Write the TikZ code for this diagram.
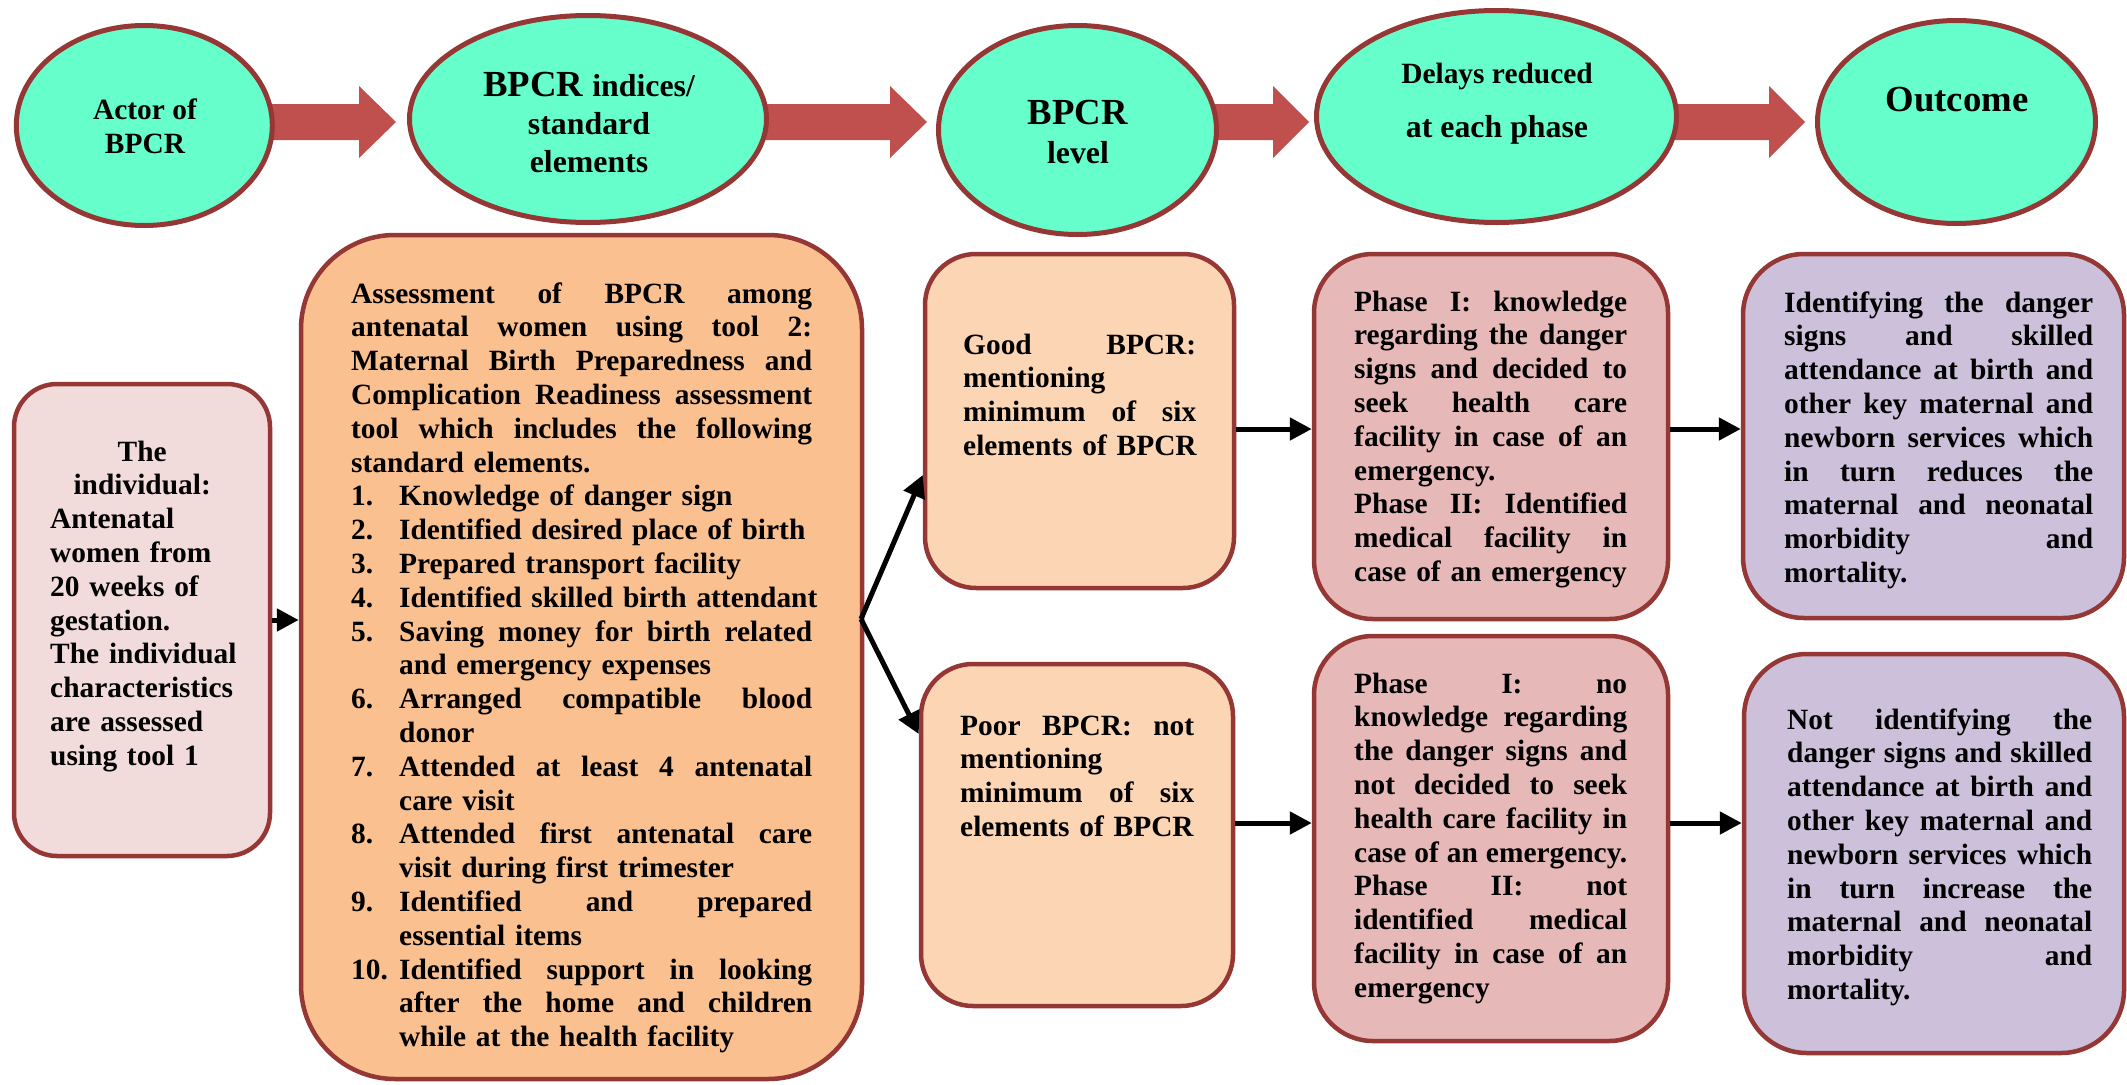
\documentclass[tikz,border=0pt]{standalone}
\usepackage{fontspec}
\setmainfont{Liberation Serif}
\usetikzlibrary{arrows.meta,shapes.geometric}
\definecolor{mint}{HTML}{66FFCC}
\definecolor{bord}{HTML}{953735}
\definecolor{blockred}{HTML}{C0504D}
\definecolor{fillA}{HTML}{F2DCDB}
\definecolor{fillB}{HTML}{FAC090}
\definecolor{fillC}{HTML}{FCD5B5}
\definecolor{fillE}{HTML}{E6B9B8}
\definecolor{fillG}{HTML}{CCC0DA}
\makeatletter
\def\jline#1{\hbox to \linewidth{\j@w#1 \@nil}}
\def\j@w#1 #2\@nil{#1\ifx\relax#2\relax\else\hskip .25em plus 1fil\relax\j@w#2\@nil\fi}
\makeatother
\newcommand{\lline}[1]{\hbox to \linewidth{#1\hfil}}
\newcommand{\mline}[1]{\hbox to \linewidth{\hfil#1\hfil}}
\newcommand{\itemno}[1]{\hbox to 48pt{#1\hfil}}
\newcommand{\ind}{\hskip48pt}
\newcommand{\fA}{\fontsize{29.4}{33.8}\selectfont}
\newcommand{\fB}{\fontsize{31.85}{38}\selectfont}
\newcommand{\fC}{\fontsize{36.75}{40}\selectfont}
\begin{document}
\begin{tikzpicture}[x=1pt,y=-1pt,
  ell/.style={ellipse, draw=bord, line width=5pt, fill=mint, inner sep=0pt},
  box/.style={rectangle, draw=bord, line width=4.5pt, inner sep=0pt},
  btxt/.style={inner sep=0pt, anchor=base west, font=\fA\bfseries},
  etxt/.style={inner sep=0pt, anchor=base, font=\bfseries},
  conn/.style={draw=black, line width=5pt, -{Triangle[length=22pt,width=22pt]}},
  blk/.style={fill=blockred}]
\useasboundingbox (0,0) rectangle (2127,1084);
\fill[white] (0,0) rectangle (2127,1084);

% block arrows
\fill[blk] (265,104) -- (359,104) -- (359,86) -- (396,122) -- (359,158) -- (359,140) -- (265,140) -- cycle;
\fill[blk] (760,104) -- (890,104) -- (890,86) -- (927,122) -- (890,158) -- (890,140) -- (760,140) -- cycle;
\fill[blk] (1212,104) -- (1273,104) -- (1273,86) -- (1309,122) -- (1273,158) -- (1273,140) -- (1212,140) -- cycle;
\fill[blk] (1671,104) -- (1769,104) -- (1769,86) -- (1805,122) -- (1769,158) -- (1769,140) -- (1671,140) -- cycle;

% ellipses
\node[ell, minimum width=256pt, minimum height=200pt] (e1) at (144.3,125.5) {};
\node[ell, minimum width=357pt, minimum height=207pt] (e2) at (588,119) {};
\node[ell, minimum width=278pt, minimum height=209pt] (e3) at (1077.5,130) {};
\node[ell, minimum width=360pt, minimum height=212pt] (e4) at (1496.5,116.5) {};
\node[ell, minimum width=278pt, minimum height=203pt] (e5) at (1956.5,122) {};

\node[etxt] (t1a) at (145,119) {\fA Actor of};
\node[etxt] (t1b) at (145,153) {\fA BPCR};
\node[etxt] (t2a) at (589,96) {\fC BPCR \fB indices/};
\node[etxt] (t2b) at (589,134) {\fB standard};
\node[etxt] (t2c) at (589,172) {\fB elements};
\node[etxt] (t3a) at (1078,124) {\fC BPCR};
\node[etxt] (t3b) at (1078,163) {\fB level};
\node[etxt] (t4a) at (1497,83) {\fA Delays reduced};
\node[etxt] (t4b) at (1497,137) {\fB at each phase};
\node[etxt] (t5a) at (1957,111) {\fC Outcome};

% boxes
\node[box, fill=fillA, rounded corners=43pt, minimum width=256pt, minimum height=472pt] (a) at (142,620) {};
\node[box, fill=fillB, rounded corners=94pt, minimum width=561pt, minimum height=844pt] (b) at (581.5,657) {};
\node[box, fill=fillC, rounded corners=51pt, minimum width=309pt, minimum height=334pt] (c) at (1079.5,421) {};
\node[box, fill=fillC, rounded corners=52pt, minimum width=312pt, minimum height=342pt] (d) at (1077,835) {};
\node[box, fill=fillE, rounded corners=59pt, minimum width=354pt, minimum height=365pt] (e) at (1491,436.5) {};
\node[box, fill=fillE, rounded corners=59pt, minimum width=354pt, minimum height=405pt] (f) at (1491,838.5) {};
\node[box, fill=fillG, rounded corners=61pt, minimum width=381pt, minimum height=364pt] (g) at (1933.5,436) {};
\node[box, fill=fillG, rounded corners=63pt, minimum width=380pt, minimum height=399pt] (h) at (1934,853.5) {};

% texts
\node[btxt, text width=184pt] (ta) at (50,461) {%
\mline{The}
\mline{individual:}
\lline{Antenatal}
\lline{women from}
\lline{20 weeks of}
\lline{gestation.}
\lline{The individual}
\lline{characteristics}
\lline{are assessed}
\lline{using tool 1}};

\node[btxt, text width=461pt] (tb) at (351,303) {%
\jline{Assessment of BPCR among}
\jline{antenatal women using tool 2:}
\jline{Maternal Birth Preparedness and}
\jline{Complication Readiness assessment}
\jline{tool which includes the following}
\lline{standard elements.}
\lline{\itemno{1.}Knowledge of danger sign}
\lline{\itemno{2.}Identified desired place of birth}
\lline{\itemno{3.}Prepared transport facility}
\lline{\itemno{4.}Identified skilled birth attendant}
\jline{\itemno{5.}Saving money for birth related}
\lline{\ind and emergency expenses}
\jline{\itemno{6.}Arranged compatible blood}
\lline{\ind donor}
\jline{\itemno{7.}Attended at least 4 antenatal}
\lline{\ind care visit}
\jline{\itemno{8.}Attended first antenatal care}
\lline{\ind visit during first trimester}
\jline{\itemno{9.}Identified and prepared}
\lline{\ind essential items}
\jline{\itemno{10.}Identified support in looking}
\jline{\ind after the home and children}
\lline{\ind while at the health facility}};

\node[btxt, text width=233pt] (tc) at (963,354) {%
\jline{Good BPCR:}
\lline{mentioning}
\jline{minimum of six}
\lline{elements of BPCR}};

\node[btxt, text width=234pt] (td) at (960,735) {%
\jline{Poor BPCR: not}
\lline{mentioning}
\jline{minimum of six}
\lline{elements of BPCR}};

\node[btxt, text width=273pt] (te) at (1354,311) {%
\jline{Phase I: knowledge}
\jline{regarding the danger}
\jline{signs and decided to}
\jline{seek health care}
\jline{facility in case of an}
\lline{emergency.}
\jline{Phase II: Identified}
\jline{medical facility in}
\lline{case of an emergency}};

\node[btxt, text width=273pt] (tf) at (1354,693) {%
\jline{Phase I: no}
\jline{knowledge regarding}
\jline{the danger signs and}
\jline{not decided to seek}
\jline{health care facility in}
\jline{case of an emergency.}
\jline{Phase II: not}
\jline{identified medical}
\jline{facility in case of an}
\lline{emergency}};

\node[btxt, text width=309pt] (tg) at (1784,312) {%
\jline{Identifying the danger}
\jline{signs and skilled}
\jline{attendance at birth and}
\jline{other key maternal and}
\jline{newborn services which}
\jline{in turn reduces the}
\jline{maternal and neonatal}
\jline{morbidity and}
\lline{mortality.}};

\node[btxt, text width=305pt] (th) at (1787,729) {%
\jline{Not identifying the}
\jline{danger signs and skilled}
\jline{attendance at birth and}
\jline{other key maternal and}
\jline{newborn services which}
\jline{in turn increase the}
\jline{maternal and neonatal}
\jline{morbidity and}
\lline{mortality.}};

% connectors
\coordinate (bsplit) at (861,619);
\coordinate (ytop) at (0,429);
\coordinate (ybot) at (0,823);
\draw[conn] (a.east) -- (a.east -| b.west);
\draw[conn] (bsplit) -- ([yshift=-54pt]c.west);
\draw[conn] (bsplit) -- ([yshift=101pt]d.west);
\draw[conn] (c.east |- ytop) -- (e.west |- ytop);
\draw[conn] (d.east |- ybot) -- (f.west |- ybot);
\draw[conn] (e.east |- ytop) -- (g.west |- ytop);
\draw[conn] (f.east |- ybot) -- (h.west |- ybot);
\end{tikzpicture}
\end{document}
